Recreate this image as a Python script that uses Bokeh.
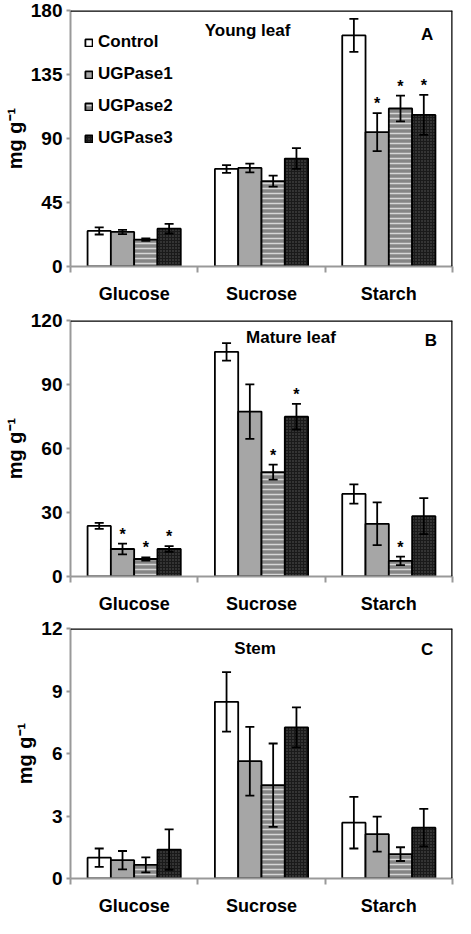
from bokeh.plotting import figure
from bokeh.models import (ColumnDataSource, Whisker, TeeHead, Span, Label, Legend,
                          LegendItem, FixedTicker, Range1d)
from bokeh.layouts import column
from bokeh.embed import file_html
from bokeh.resources import INLINE
from bokeh.core.properties import value

categories = ["Glucose", "Sucrose", "Starch"]
series = ["Control", "UGPase1", "UGPase2", "UGPase3"]

# Panel A - Young leaf
young_control = [25.0, 68.6, 162.5]
young_ugpase1 = [24.3, 69.3, 94.5]
young_ugpase2 = [18.9, 60.0, 111.1]
young_ugpase3 = [26.6, 75.9, 106.6]
young_control_err = [2.5, 2.7, 11.6]
young_ugpase1_err = [1.5, 3.1, 13.4]
young_ugpase2_err = [0.9, 3.9, 9.1]
young_ugpase3_err = [3.4, 7.3, 14.1]
young_control_sig = [0, 0, 0]
young_ugpase1_sig = [0, 0, 1]
young_ugpase2_sig = [0, 0, 1]
young_ugpase3_sig = [0, 0, 1]
young_ticks = [0, 45, 90, 135, 180]

# Panel B - Mature leaf
mature_control = [23.7, 105.3, 38.7]
mature_ugpase1 = [12.9, 77.3, 24.7]
mature_ugpase2 = [8.2, 48.9, 7.3]
mature_ugpase3 = [12.9, 74.9, 28.3]
mature_control_err = [1.4, 4.1, 4.5]
mature_ugpase1_err = [2.5, 12.8, 10.0]
mature_ugpase2_err = [0.8, 3.5, 2.0]
mature_ugpase3_err = [1.3, 6.0, 8.4]
mature_control_sig = [0, 0, 0]
mature_ugpase1_sig = [1, 0, 0]
mature_ugpase2_sig = [1, 1, 1]
mature_ugpase3_sig = [1, 1, 0]
mature_ticks = [0, 30, 60, 90, 120]

# Panel C - Stem
stem_control = [1.0, 8.48, 2.68]
stem_ugpase1 = [0.88, 5.63, 2.13]
stem_ugpase2 = [0.65, 4.48, 1.17]
stem_ugpase3 = [1.39, 7.25, 2.44]
stem_control_err = [0.44, 1.43, 1.24]
stem_ugpase1_err = [0.44, 1.65, 0.84]
stem_ugpase2_err = [0.36, 2.0, 0.33]
stem_ugpase3_err = [0.97, 0.96, 0.9]
stem_control_sig = [0, 0, 0]
stem_ugpase1_sig = [0, 0, 0]
stem_ugpase2_sig = [0, 0, 0]
stem_ugpase3_sig = [0, 0, 0]
stem_ticks = [0, 3, 6, 9, 12]

FONT = "Liberation Sans"
BAR_W = 0.183

styles = [
    dict(fill_color="white"),
    dict(fill_color="#a6a6a6"),
    dict(fill_color="#858585", hatch_pattern="horizontal_line", hatch_color="#d6d6d6",
         hatch_scale=5, hatch_weight=1.5),
    dict(fill_color="#1a1a1a", hatch_pattern="dot", hatch_color="#5a5a5a",
         hatch_scale=3, hatch_weight=1),
]


def make_panel(means, errs, sigs, ticks, title, letter, title_xy, letter_xy,
               legend=False, height=306, top=10, bottom=38):
    ymax = ticks[-1]
    p = figure(width=455, height=height, x_range=Range1d(0, 3), y_range=Range1d(0, ymax),
               output_backend="svg", toolbar_location=None,
               min_border_left=62, min_border_right=3, min_border_top=top,
               min_border_bottom=bottom)
    p.outline_line_color = None
    p.xgrid.visible = False
    p.ygrid.visible = False
    p.background_fill_color = "white"
    p.border_fill_color = "white"

    renderers = []
    for j in range(4):
        xs = [i + 0.5 + (j - 1.5) * BAR_W for i in range(len(categories))]
        m = means[j]
        e = errs[j]
        src = ColumnDataSource(dict(x=xs, top=m, upper=[a + b for a, b in zip(m, e)],
                                    lower=[a - b for a, b in zip(m, e)]))
        r = p.vbar(x="x", top="top", bottom=0, width=BAR_W, source=src,
                   line_color="black", line_width=1.8, **styles[j])
        renderers.append(r)
        w = Whisker(base="x", upper="upper", lower="lower", source=src, level="overlay",
                    line_color="black", line_width=1.8,
                    upper_head=TeeHead(size=9, line_color="black", line_width=1.8),
                    lower_head=TeeHead(size=9, line_color="black", line_width=1.8))
        p.add_layout(w)
        sx = [x for x, s in zip(xs, sigs[j]) if s]
        sy = [a + b for a, b, s in zip(m, e, sigs[j]) if s]
        if sx:
            p.text(x=sx, y=sy, text=["*"] * len(sx), text_align="center",
                   text_baseline="bottom", y_offset=-1, text_font=value(FONT),
                   text_font_style="bold", text_font_size="16px", text_color="black")

    # top and right black border
    p.add_layout(Span(location=ymax, dimension="width", line_color="black", line_width=2.5))
    p.add_layout(Span(location=3, dimension="height", line_color="black", line_width=2.5))

    # axes
    xa = p.xaxis[0]
    xa.ticker = FixedTicker(ticks=[0.5, 1.5, 2.5], minor_ticks=[0, 1, 2, 3])
    xa.major_label_overrides = {0.5: categories[0], 1.5: categories[1], 2.5: categories[2]}
    xa.major_tick_line_color = None
    xa.major_tick_out = 0
    xa.major_tick_in = 0
    xa.minor_tick_out = 6
    xa.minor_tick_in = 0
    xa.minor_tick_line_color = "#999999"
    xa.minor_tick_line_width = 2
    xa.axis_line_color = "#999999"
    xa.axis_line_width = 2
    xa.major_label_standoff = 11
    xa.major_label_text_font = FONT
    xa.major_label_text_font_style = "bold"
    xa.major_label_text_font_size = "18px"
    xa.major_label_text_color = "black"

    ya = p.yaxis[0]
    ya.ticker = FixedTicker(ticks=ticks, minor_ticks=[])
    ya.axis_line_color = "#999999"
    ya.axis_line_width = 2
    ya.major_tick_line_color = "#999999"
    ya.major_tick_line_width = 2
    ya.major_tick_out = 4
    ya.major_tick_in = 0
    ya.major_label_standoff = 4
    ya.major_label_text_font = FONT
    ya.major_label_text_font_style = "bold"
    ya.major_label_text_font_size = "19px"
    ya.major_label_text_color = "black"
    ya.axis_label = "mg g\u207b\u00b9"
    ya.axis_label_text_font = FONT
    ya.axis_label_text_font_style = "bold"
    ya.axis_label_text_font_size = "20px"
    ya.axis_label_standoff = 2
    ya.axis_label_text_color = "black"

    p.add_layout(Label(x=title_xy[0], y=title_xy[1], text=title, text_align="center",
                       text_baseline="middle", text_font=FONT, text_font_style="bold",
                       text_font_size="17px", text_color="black"))
    p.add_layout(Label(x=letter_xy[0], y=letter_xy[1], text=letter, text_align="center",
                       text_baseline="middle", text_font=FONT, text_font_style="bold",
                       text_font_size="17px", text_color="black"))

    if legend:
        items = [LegendItem(label=s, renderers=[r]) for s, r in zip(series, renderers)]
        lg = Legend(items=items, location=(14, 118), glyph_width=9, glyph_height=9,
                    label_standoff=5, label_height=20, spacing=12, padding=0, margin=0,
                    border_line_color=None, background_fill_alpha=0,
                    label_text_font=FONT, label_text_font_style="bold",
                    label_text_font_size="17px", label_text_color="black")
        p.add_layout(lg)
    return p


pa = make_panel([young_control, young_ugpase1, young_ugpase2, young_ugpase3],
                [young_control_err, young_ugpase1_err, young_ugpase2_err, young_ugpase3_err],
                [young_control_sig, young_ugpase1_sig, young_ugpase2_sig, young_ugpase3_sig],
                young_ticks, "Young leaf", "A", (1.39, 166), (2.8, 163), legend=True,
                height=306, top=10, bottom=36)
pb = make_panel([mature_control, mature_ugpase1, mature_ugpase2, mature_ugpase3],
                [mature_control_err, mature_ugpase1_err, mature_ugpase2_err, mature_ugpase3_err],
                [mature_control_sig, mature_ugpase1_sig, mature_ugpase2_sig, mature_ugpase3_sig],
                mature_ticks, "Mature  leaf", "B", (1.75, 112), (2.83, 110.5),
                height=310, top=14, bottom=36)
pc = make_panel([stem_control, stem_ugpase1, stem_ugpase2, stem_ugpase3],
                [stem_control_err, stem_ugpase1_err, stem_ugpase2_err, stem_ugpase3_err],
                [stem_control_sig, stem_ugpase1_sig, stem_ugpase2_sig, stem_ugpase3_sig],
                stem_ticks, "Stem", "C", (1.45, 11.04), (2.8, 11.0),
                height=302, top=12, bottom=32)

layout = column(pa, pb, pc, spacing=0)
open("out.html", "w").write(file_html(layout, INLINE))
